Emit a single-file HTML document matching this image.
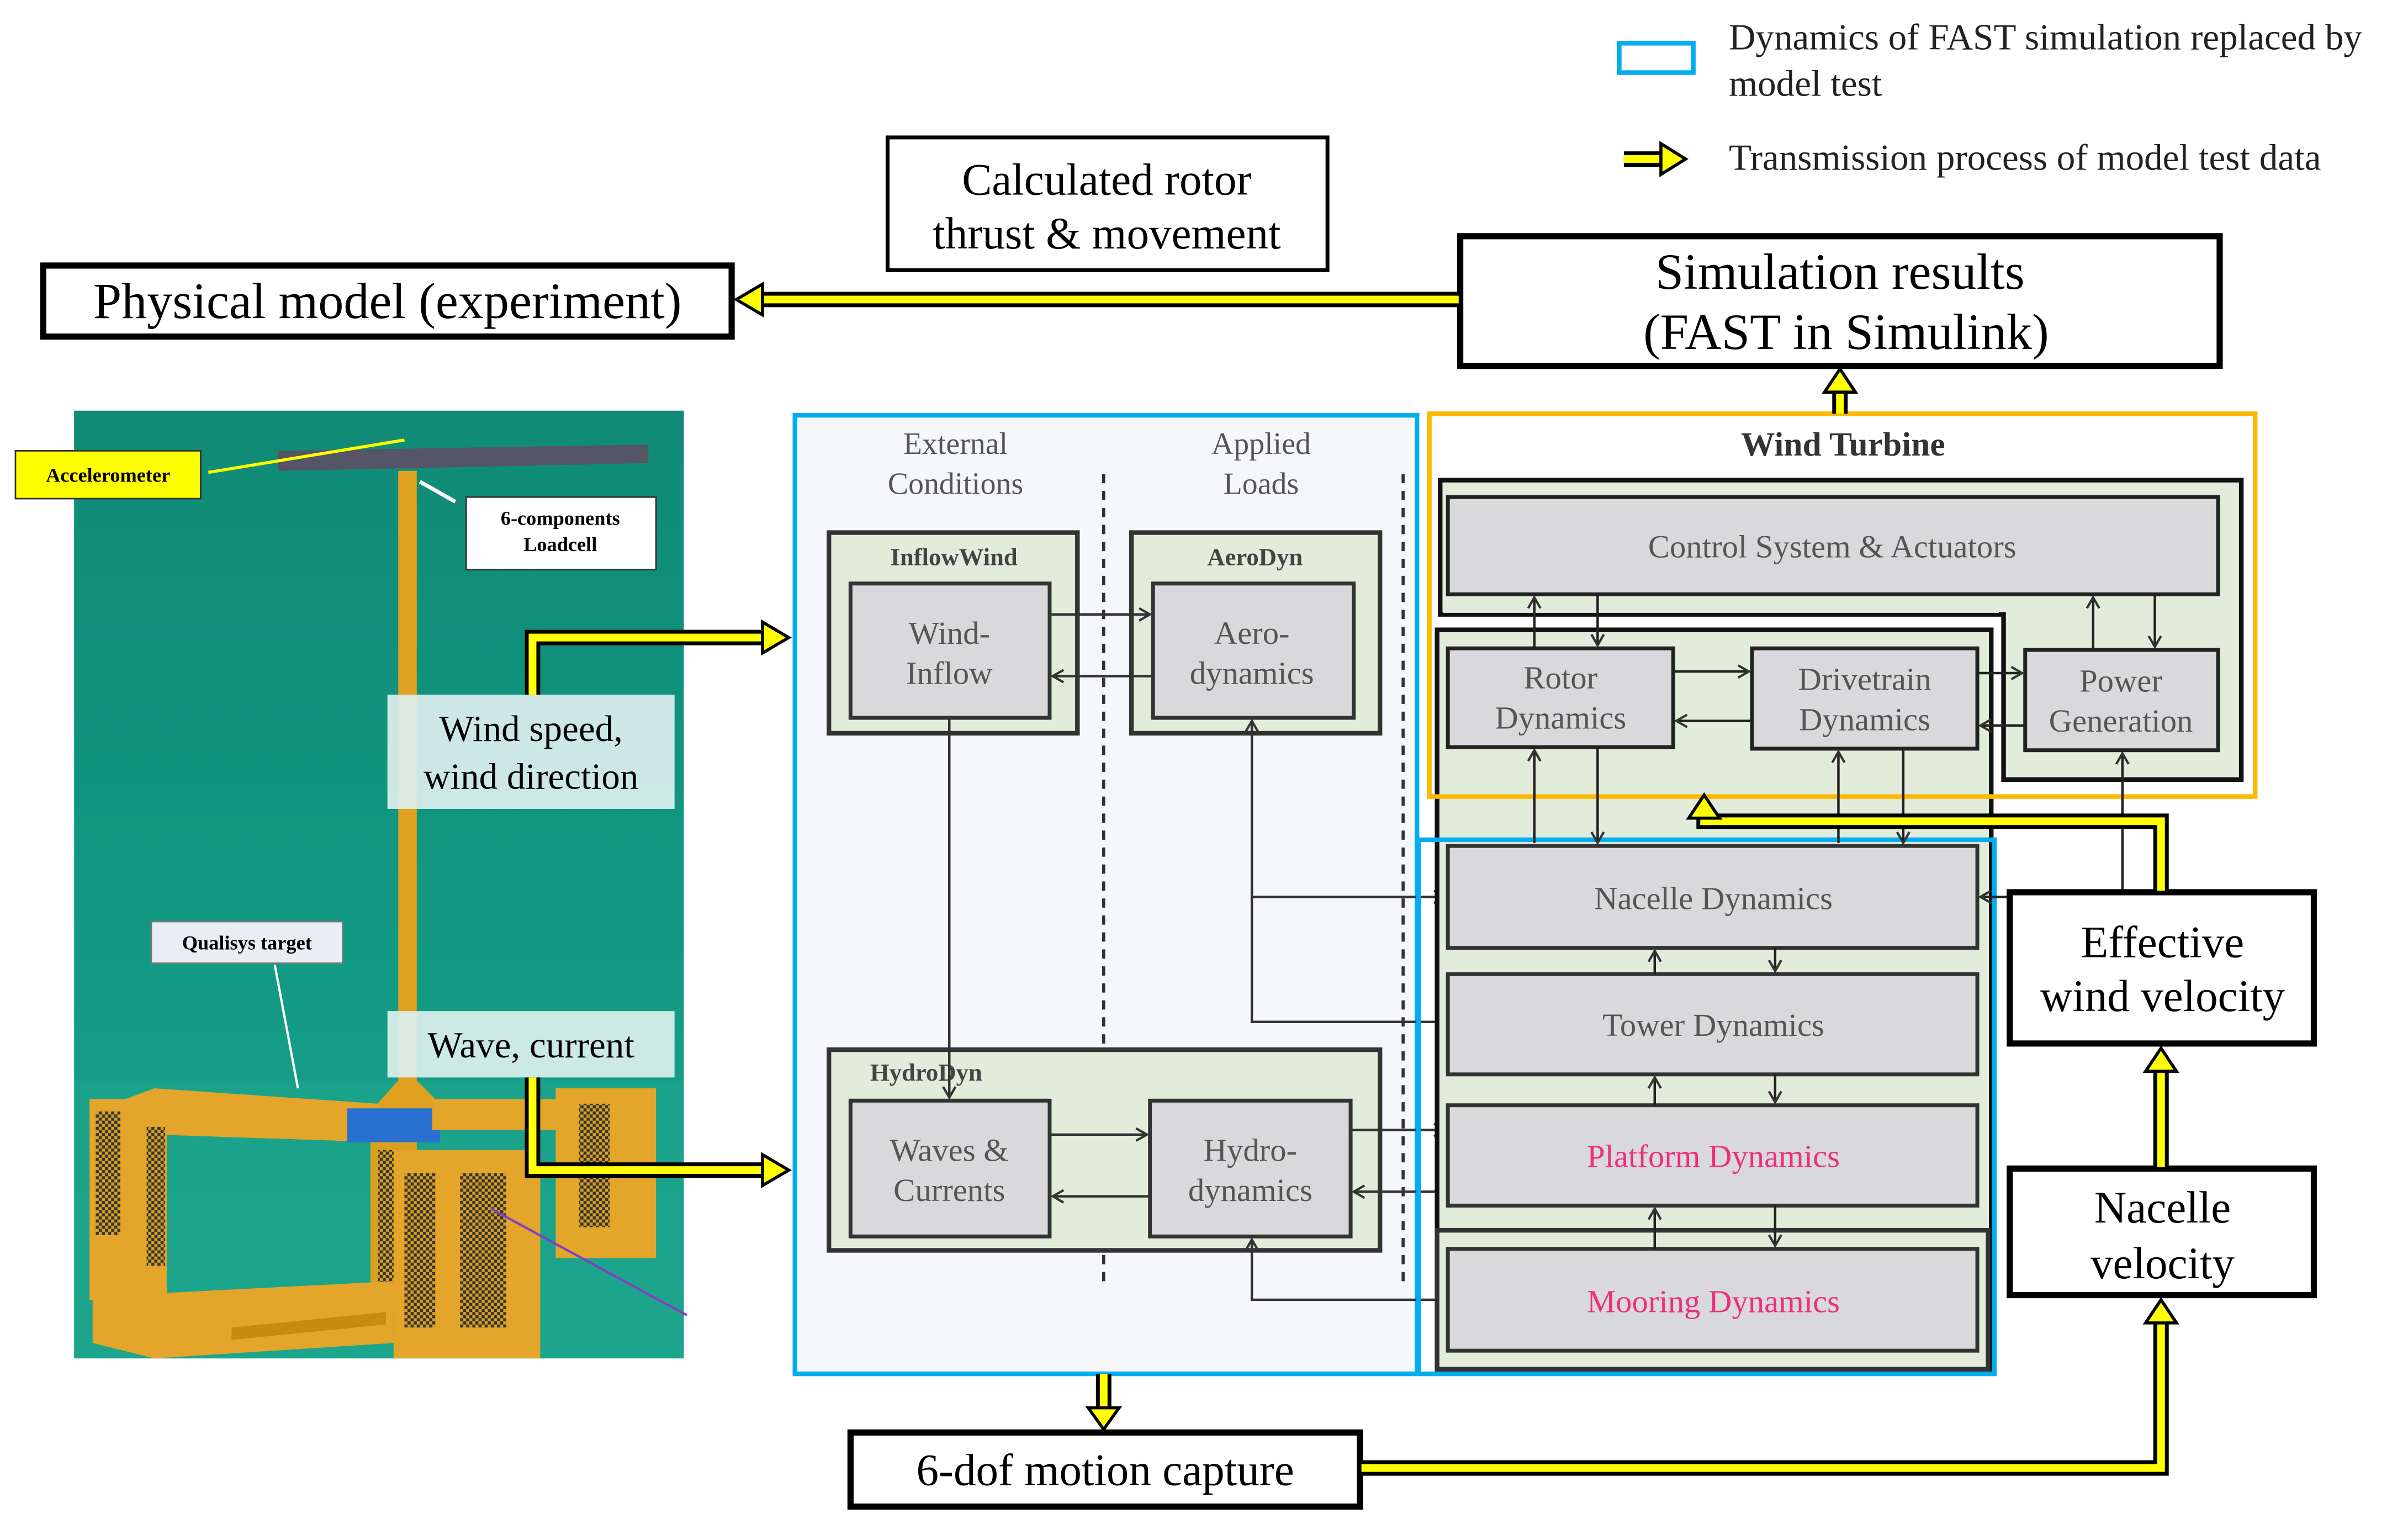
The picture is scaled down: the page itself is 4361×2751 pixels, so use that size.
<!DOCTYPE html>
<html><head><meta charset="utf-8"><style>
html,body{margin:0;padding:0;background:#fff;}
svg{display:block;}
text{font-family:"Liberation Serif",serif;}
</style></head><body>
<svg width="4361" height="2751" viewBox="0 0 1560 984" xmlns="http://www.w3.org/2000/svg">
<defs>
<marker id="a" markerWidth="10" markerHeight="10" refX="8" refY="5" orient="auto" markerUnits="userSpaceOnUse"><path d="M1,1 L8,5 L1,9" fill="none" stroke="#333" stroke-width="1.5"/></marker>
<linearGradient id="g" x1="0" y1="0" x2="0" y2="1"><stop offset="0" stop-color="#0f8a76"/><stop offset="0.6" stop-color="#129a84"/><stop offset="1" stop-color="#1aa58e"/></linearGradient>
<pattern id="chk" width="4" height="4" patternUnits="userSpaceOnUse"><rect width="4" height="4" fill="#d9a020"/><rect width="2" height="2" fill="#333"/><rect x="2" y="2" width="2" height="2" fill="#333"/></pattern>
</defs>
<rect width="1560" height="984" fill="#fff"/>

<!-- Legend -->
<rect x="1049" y="28" width="48" height="19" fill="none" stroke="#00aeef" stroke-width="3"/>
<text x="1120" y="32" font-size="24" fill="#222">Dynamics of FAST simulation replaced by</text>
<text x="1120" y="62" font-size="24" fill="#222">model test</text>
<path d="M1052,103 L1078,103" stroke="#000" stroke-width="10"/><path d="M1052,103 L1078,103" stroke="#ff0" stroke-width="5"/>
<polygon points="1076,93 1092,103 1076,113" fill="#ff0" stroke="#000" stroke-width="2"/>
<text x="1120" y="110" font-size="24" fill="#222">Transmission process of model test data</text>

<!-- Top boxes -->
<rect x="575" y="89" width="285" height="86" fill="#fff" stroke="#000" stroke-width="2.5"/>
<text x="717" y="126" font-size="29" text-anchor="middle">Calculated rotor</text>
<text x="717" y="161" font-size="29" text-anchor="middle">thrust &amp; movement</text>
<rect x="28" y="172" width="446" height="46" fill="#fff" stroke="#000" stroke-width="4"/>
<text x="251" y="206" font-size="33" text-anchor="middle">Physical model (experiment)</text>
<rect x="946" y="153" width="492" height="84" fill="#fff" stroke="#000" stroke-width="4"/>
<text x="1192" y="187" font-size="33" text-anchor="middle">Simulation results</text>
<text x="1196" y="226" font-size="33" text-anchor="middle">(FAST in Simulink)</text>

<!-- Photo -->
<rect x="48" y="266" width="395" height="614" fill="url(#g)"/>
<rect x="48" y="700" width="395" height="180" fill="#1ea58c" opacity="0.6"/>
<path d="M180,292 L420,288 L420,300 L180,305 Z" fill="#556"/>
<rect x="258" y="305" width="12" height="410" fill="#e0a020"/>
<path d="M240,720 L258,700 L270,700 L290,720 Z" fill="#e0a020"/>
<path d="M60,720 L100,705 L245,715 L250,740 L100,735 Z" fill="#e3a52a"/>
<rect x="58" y="712" width="50" height="130" fill="#e3a52a"/>
<rect x="62" y="720" width="16" height="80" fill="url(#chk)"/>
<rect x="95" y="730" width="12" height="90" fill="url(#chk)"/>
<rect x="225" y="718" width="60" height="22" fill="#2a70d0"/>
<rect x="280" y="712" width="120" height="20" fill="#e3a52a"/>
<rect x="360" y="705" width="65" height="110" fill="#e3a52a"/>
<rect x="375" y="715" width="20" height="80" fill="url(#chk)"/>
<rect x="240" y="740" width="30" height="110" fill="#d9a020"/>
<rect x="245" y="745" width="15" height="90" fill="url(#chk)"/>
<rect x="255" y="745" width="95" height="135" fill="#e3a52a"/>
<rect x="262" y="760" width="20" height="100" fill="url(#chk)"/>
<rect x="298" y="760" width="30" height="100" fill="url(#chk)"/>
<path d="M60,840 L255,830 L255,870 L100,880 L60,870 Z" fill="#e3a52a"/>
<path d="M150,860 L250,850 L250,858 L150,868 Z" fill="#c88a10"/>
<path d="M135,306 L262,285" stroke="#ff0" stroke-width="2"/>
<path d="M295,325 L272,312" stroke="#fff" stroke-width="2.5"/>
<path d="M178,625 L193,705" stroke="#fff" stroke-width="1.5"/>
<path d="M445,852 L318,783" stroke="#8040c0" stroke-width="1.5"/>
<rect x="10" y="292" width="120" height="31" fill="#ff0" stroke="#333" stroke-width="1"/>
<text x="70" y="312" font-size="13" font-weight="bold" text-anchor="middle">Accelerometer</text>
<rect x="302" y="322" width="123" height="47" fill="#fff" stroke="#333" stroke-width="1"/>
<text x="363" y="340" font-size="13" font-weight="bold" text-anchor="middle">6-components</text>
<text x="363" y="357" font-size="13" font-weight="bold" text-anchor="middle">Loadcell</text>
<rect x="98" y="597" width="124" height="27" fill="#e8eef2" stroke="#777" stroke-width="1"/>
<text x="160" y="615" font-size="13" font-weight="bold" text-anchor="middle">Qualisys target</text>
<rect x="251" y="450" width="186" height="74" fill="#dcefec" opacity="0.93"/>
<text x="344" y="480" font-size="24" text-anchor="middle">Wind speed,</text>
<text x="344" y="511" font-size="24" text-anchor="middle">wind direction</text>
<rect x="251" y="655" width="186" height="43" fill="#dcefec" opacity="0.93"/>
<text x="344" y="685" font-size="24" text-anchor="middle">Wave, current</text>

<!-- Left cyan region -->
<rect x="515" y="269" width="403" height="621" fill="#f5f7fb" stroke="#00aeef" stroke-width="3"/>
<text x="619" y="294" font-size="20" fill="#555" text-anchor="middle">External</text>
<text x="619" y="320" font-size="20" fill="#555" text-anchor="middle">Conditions</text>
<text x="817" y="294" font-size="20" fill="#555" text-anchor="middle">Applied</text>
<text x="817" y="320" font-size="20" fill="#555" text-anchor="middle">Loads</text>
<path d="M715,307 V830 M909,307 V830" stroke="#333" stroke-width="2" stroke-dasharray="6,5"/>

<rect x="537" y="345" width="161" height="130" fill="#e2ecdb" stroke="#333" stroke-width="3"/>
<text x="618" y="366" font-size="16" font-weight="bold" fill="#444" text-anchor="middle">InflowWind</text>
<rect x="551" y="378" width="129" height="87" fill="#d9d9dc" stroke="#333" stroke-width="2.5"/>
<text x="615" y="417" font-size="21" fill="#555" text-anchor="middle">Wind-</text>
<text x="615" y="443" font-size="21" fill="#555" text-anchor="middle">Inflow</text>
<rect x="733" y="345" width="161" height="130" fill="#e2ecdb" stroke="#333" stroke-width="3"/>
<text x="813" y="366" font-size="16" font-weight="bold" fill="#444" text-anchor="middle">AeroDyn</text>
<rect x="747" y="378" width="130" height="87" fill="#d9d9dc" stroke="#333" stroke-width="2.5"/>
<text x="811" y="417" font-size="21" fill="#555" text-anchor="middle">Aero-</text>
<text x="811" y="443" font-size="21" fill="#555" text-anchor="middle">dynamics</text>
<rect x="537" y="680" width="357" height="130" fill="#e2ecdb" stroke="#333" stroke-width="3"/>
<text x="600" y="700" font-size="16" font-weight="bold" fill="#444" text-anchor="middle">HydroDyn</text>
<rect x="551" y="713" width="129" height="88" fill="#d9d9dc" stroke="#333" stroke-width="2.5"/>
<text x="615" y="752" font-size="21" fill="#555" text-anchor="middle">Waves &amp;</text>
<text x="615" y="778" font-size="21" fill="#555" text-anchor="middle">Currents</text>
<rect x="745" y="713" width="130" height="88" fill="#d9d9dc" stroke="#333" stroke-width="2.5"/>
<text x="810" y="752" font-size="21" fill="#555" text-anchor="middle">Hydro-</text>
<text x="810" y="778" font-size="21" fill="#555" text-anchor="middle">dynamics</text>

<g stroke="#333" stroke-width="1.6" fill="none">
<path d="M680,398 H745" marker-end="url(#a)"/>
<path d="M747,438 H682" marker-end="url(#a)"/>
<path d="M615,465 V711" marker-end="url(#a)"/>
<path d="M680,735 H743" marker-end="url(#a)"/>
<path d="M745,775 H682" marker-end="url(#a)"/>
<path d="M936,662 H811 V467" marker-end="url(#a)"/>
<path d="M811,581 H936" marker-end="url(#a)"/>
<path d="M875,732 H936" marker-end="url(#a)"/>
<path d="M936,772 H877" marker-end="url(#a)"/>
<path d="M936,842 H811 V803" marker-end="url(#a)"/>
</g>

<!-- Wind turbine -->
<rect x="931" y="408" width="359" height="481" fill="#e2ecdb" stroke="#111" stroke-width="3"/>
<path d="M933,311 H1452 V505 H1298 V398 H933 Z" fill="#e2ecdb" stroke="#111" stroke-width="3"/>
<rect x="935" y="313" width="360" height="84" fill="#e2ecdb"/>
<rect x="938" y="322" width="499" height="63" fill="#d9d9dc" stroke="#222" stroke-width="2.5"/>
<text x="1187" y="361" font-size="21" fill="#555" text-anchor="middle">Control System &amp; Actuators</text>
<rect x="938" y="420" width="146" height="64" fill="#d9d9dc" stroke="#222" stroke-width="2.5"/>
<text x="1011" y="446" font-size="21" fill="#555" text-anchor="middle">Rotor</text>
<text x="1011" y="472" font-size="21" fill="#555" text-anchor="middle">Dynamics</text>
<rect x="1135" y="420" width="146" height="65" fill="#d9d9dc" stroke="#222" stroke-width="2.5"/>
<text x="1208" y="447" font-size="21" fill="#555" text-anchor="middle">Drivetrain</text>
<text x="1208" y="473" font-size="21" fill="#555" text-anchor="middle">Dynamics</text>
<rect x="1312" y="421" width="125" height="65" fill="#d9d9dc" stroke="#222" stroke-width="2.5"/>
<text x="1374" y="448" font-size="21" fill="#555" text-anchor="middle">Power</text>
<text x="1374" y="474" font-size="21" fill="#555" text-anchor="middle">Generation</text>
<rect x="926" y="268" width="535" height="248" fill="none" stroke="#fbb900" stroke-width="3"/>
<text x="1194" y="295" font-size="22" font-weight="bold" fill="#333" text-anchor="middle">Wind Turbine</text>

<rect x="919" y="544" width="373" height="346" fill="none" stroke="#00aeef" stroke-width="3"/>
<rect x="938" y="548" width="343" height="66" fill="#d9d9dc" stroke="#333" stroke-width="2.5"/>
<text x="1110" y="589" font-size="21" fill="#555" text-anchor="middle">Nacelle Dynamics</text>
<rect x="938" y="631" width="343" height="65" fill="#d9d9dc" stroke="#333" stroke-width="2.5"/>
<text x="1110" y="671" font-size="21" fill="#555" text-anchor="middle">Tower Dynamics</text>
<rect x="938" y="716" width="343" height="65" fill="#d9d9dc" stroke="#333" stroke-width="2.5"/>
<text x="1110" y="756" font-size="21" fill="#ee2f7a" text-anchor="middle">Platform Dynamics</text>
<rect x="931" y="797" width="357" height="90" fill="#e2ecdb" stroke="#333" stroke-width="3"/>
<rect x="938" y="809" width="343" height="66" fill="#d9d9dc" stroke="#333" stroke-width="2.5"/>
<text x="1110" y="850" font-size="21" fill="#ee2f7a" text-anchor="middle">Mooring Dynamics</text>

<g stroke="#222" stroke-width="1.6" fill="none">
<path d="M994,420 V387" marker-end="url(#a)"/>
<path d="M1035,385 V418" marker-end="url(#a)"/>
<path d="M1356,421 V387" marker-end="url(#a)"/>
<path d="M1396,385 V419" marker-end="url(#a)"/>
<path d="M1084,435 H1133" marker-end="url(#a)"/>
<path d="M1135,467 H1086" marker-end="url(#a)"/>
<path d="M1281,436 H1310" marker-end="url(#a)"/>
<path d="M1312,470 H1283" marker-end="url(#a)"/>
<path d="M994,546 V486" marker-end="url(#a)"/>
<path d="M1035,484 V546" marker-end="url(#a)"/>
<path d="M1191,546 V487" marker-end="url(#a)"/>
<path d="M1233,485 V546" marker-end="url(#a)"/>
<path d="M1375,577 V488" marker-end="url(#a)"/>
<path d="M1300,581 H1283" marker-end="url(#a)"/>
<path d="M1072,631 V616" marker-end="url(#a)"/>
<path d="M1150,614 V629" marker-end="url(#a)"/>
<path d="M1072,716 V698" marker-end="url(#a)"/>
<path d="M1150,696 V714" marker-end="url(#a)"/>
<path d="M1072,809 V783" marker-end="url(#a)"/>
<path d="M1150,781 V807" marker-end="url(#a)"/>
</g>

<!-- right boxes -->
<rect x="1302" y="578" width="197" height="98" fill="#fff" stroke="#000" stroke-width="4"/>
<text x="1401" y="620" font-size="29" text-anchor="middle">Effective</text>
<text x="1401" y="655" font-size="29" text-anchor="middle">wind velocity</text>
<rect x="1302" y="757" width="197" height="82" fill="#fff" stroke="#000" stroke-width="4"/>
<text x="1401" y="792" font-size="29" text-anchor="middle">Nacelle</text>
<text x="1401" y="828" font-size="29" text-anchor="middle">velocity</text>
<rect x="551" y="928" width="330" height="48" fill="#fff" stroke="#000" stroke-width="4"/>
<text x="716" y="962" font-size="29" text-anchor="middle">6-dof motion capture</text>

<!-- yellow arrows -->
<g fill="none" stroke-linejoin="miter">
<g stroke="#000" stroke-width="10">
<path d="M945,194 H492"/>
<path d="M345,450 V413 H496"/>
<path d="M345,698 V758 H496"/>
<path d="M1192,268 V252"/>
<path d="M715,890 V914"/>
<path d="M882,951 H1400 V855"/>
<path d="M1400,756 V692"/>
<path d="M1400,577 V532 H1104 V528"/>
</g>
<g stroke="#ff0" stroke-width="5">
<path d="M945,194 H492"/>
<path d="M345,450 V413 H496"/>
<path d="M345,698 V758 H496"/>
<path d="M1192,268 V252"/>
<path d="M715,890 V914"/>
<path d="M882,951 H1400 V855"/>
<path d="M1400,756 V692"/>
<path d="M1400,577 V532 H1104 V528"/>
</g>
</g>
<g fill="#ff0" stroke="#000" stroke-width="2">
<polygon points="494,184 477,194 494,204"/>
<polygon points="494,403 511,413 494,423"/>
<polygon points="494,748 511,758 494,768"/>
<polygon points="1182,254 1192,239 1202,254"/>
<polygon points="705,912 715,926 725,912"/>
<polygon points="1390,857 1400,842 1410,857"/>
<polygon points="1390,694 1400,679 1410,694"/>
<polygon points="1094,530 1104,515 1114,530"/>
</g>
</svg>
</body></html>
